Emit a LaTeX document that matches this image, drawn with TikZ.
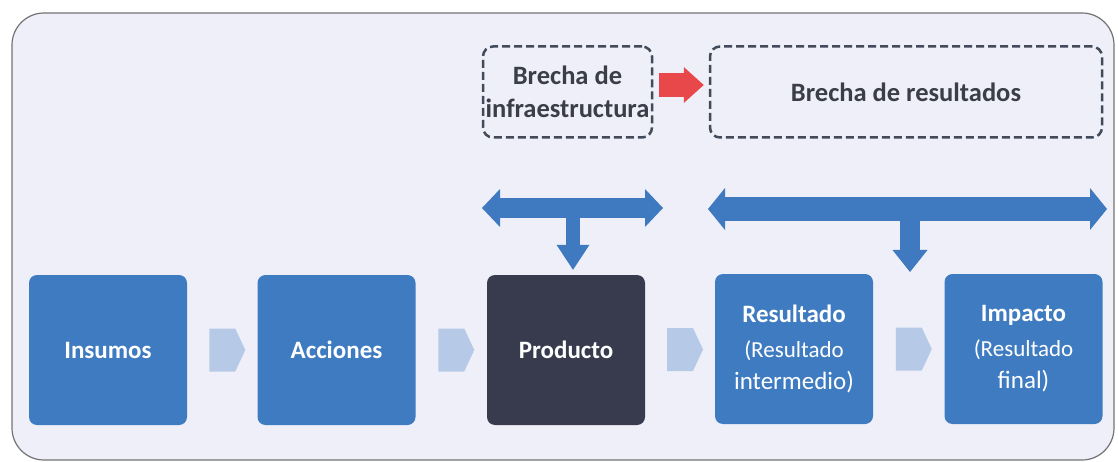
\documentclass[tikz,border=0pt]{standalone}
\usepackage{fontspec}
\setmainfont{Carlito}
\usepackage{tikz}
\usetikzlibrary{arrows.meta}
\usetikzlibrary{shapes.arrows}
\usetikzlibrary{calc}
\definecolor{boxblue}{HTML}{3F7BC1}
\definecolor{prodgray}{HTML}{373B4D}
\definecolor{bglav}{HTML}{EEEFF8}
\definecolor{chevblue}{HTML}{B6CAE7}
\definecolor{dashgray}{HTML}{434A5A}
\definecolor{gaptext}{HTML}{3B3E48}
\definecolor{redarr}{HTML}{E8484A}
\definecolor{arrblue}{HTML}{3F79C0}
\begin{document}
\begin{tikzpicture}[x=1pt,y=1pt,
    main box/.style={rounded corners=8pt,fill=boxblue,text=white,align=center,inner sep=0pt,
      minimum width=158pt,minimum height=150pt,font=\fontsize{25}{32}\selectfont},
    gap box/.style={draw=dashgray,line width=2.5pt,dash pattern=on 8pt off 4pt,rounded corners=10pt,
      text=gaptext,align=center,inner sep=0pt,minimum height=91pt,font=\bfseries\fontsize{26.5}{33}\selectfont},
    chevron/.style={single arrow,fill=chevblue,inner sep=0pt,minimum height=36pt,minimum width=43pt,
      single arrow head extend=0pt,single arrow tip angle=130},
    big arrow/.style={draw=arrblue,line width=#1},
    red arrow/.style={draw=redarr,line width=24pt,-{Triangle[length=20pt 0 0,width=36pt 0 0,line width=0pt]}}]
  \useasboundingbox (0,0) rectangle (1118,-462);
  % frame
  \draw[draw=black!55,line width=1.2pt,fill=bglav,rounded corners=32pt] (12,-13) rectangle (1114,-460);
  \begin{scope}
    % chain of boxes
    \node[main box] (insumos) at (108,-350) {\bfseries Insumos};
    \node[main box] (acciones) at (336.5,-350) {\bfseries Acciones};
    \node[main box,fill=prodgray] (producto) at (566,-350) {\bfseries Producto};
    \node[main box] (resultado) at (794,-349) {{\bfseries Resultado}\\[3pt]\fontsize{23}{32}\selectfont (Resultado\\intermedio)};
    \node[main box] (impacto) at (1023.5,-349) {{\bfseries Impacto}\\[3pt]\fontsize{23}{32}\selectfont (Resultado\\final)};
    \path (insumos) -- node[chevron] {} (acciones);
    \path (acciones) -- node[chevron] {} (producto);
    \path (producto) -- node[chevron] {} (resultado);
    \path (resultado) -- node[chevron] {} (impacto);
    % gaps
    \node[gap box,minimum width=169pt] (brinfra) at (567.5,-92) {Brecha de\\infraestructura};
    \node[gap box,minimum width=392pt] (brres) at (906,-92) {Brecha de resultados};
    \draw[red arrow,shorten <=6pt,shorten >=5pt] ([yshift=7pt]brinfra.east) -- ([yshift=7pt]brres.west);
    % double arrows
    \coordinate (a1l) at (482,-208);
    \coordinate (a1r) at (663,-208);
    \coordinate (a1m) at (573,-208);
    \coordinate (a2l) at (708,-209);
    \coordinate (a2r) at (1107,-209);
    \coordinate (a2m) at (910,-209);
    \coordinate (a2d) at (910,-272);
    \draw[big arrow=20pt,{Triangle[length=18pt 0 0,width=38pt 0 0,line width=0pt]}-{Triangle[length=18pt 0 0,width=38pt 0 0,line width=0pt]}] (a1l) -- (a1r);
    \draw[big arrow=14pt,-{Triangle[length=25pt 0 0,width=33pt 0 0,line width=0pt]},shorten >=5pt] (a1m) -- ([xshift=7pt]producto.north);
    \draw[big arrow=24pt,{Triangle[length=17pt 0 0,width=42pt 0 0,line width=0pt]}-{Triangle[length=17pt 0 0,width=42pt 0 0,line width=0pt]}] (a2l) -- (a2r);
    \draw[big arrow=20pt,-{Triangle[length=22pt 0 0,width=35pt 0 0,line width=0pt]}] (a2m) -- (a2d);
  \end{scope}
\end{tikzpicture}
\end{document}
